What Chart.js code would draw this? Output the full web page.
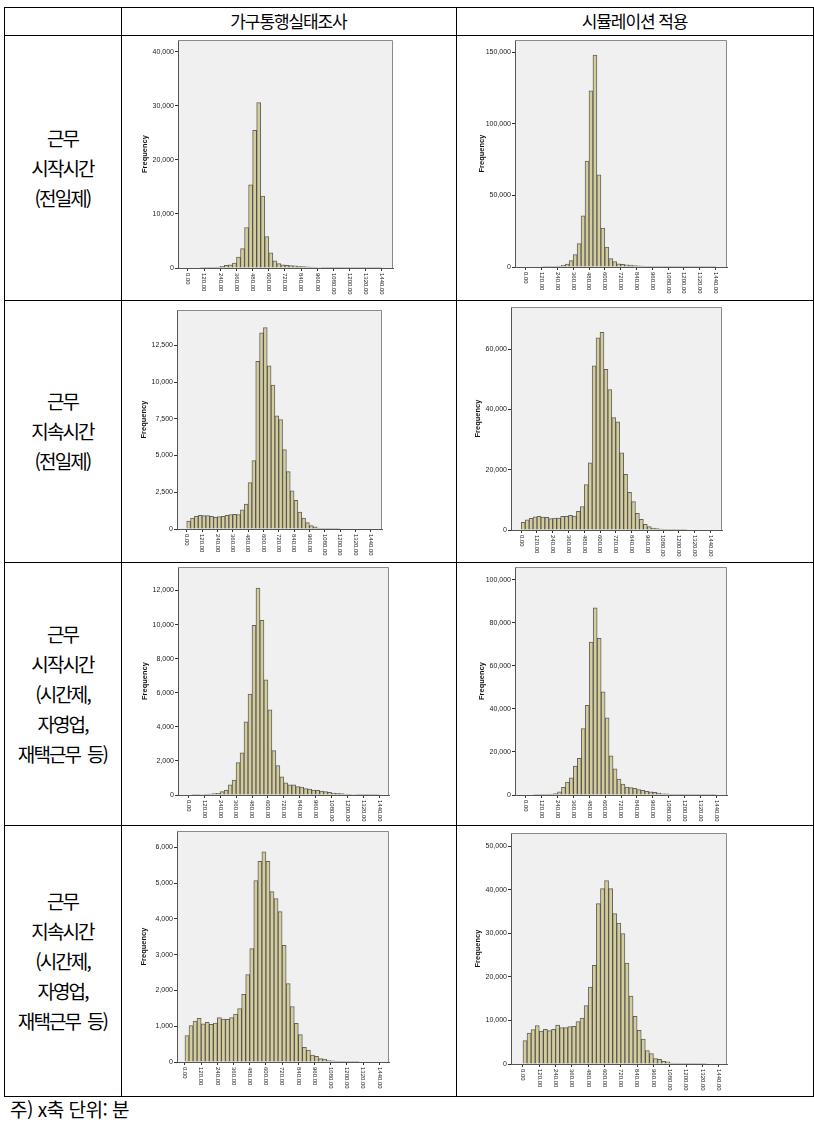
<!DOCTYPE html>
<html lang="ko">
<head>
<meta charset="UTF-8"/>
<title>근무 시작시간·지속시간 분포</title>
<script src="https://cdn.jsdelivr.net/npm/chart.js@4.4.1/dist/chart.umd.min.js"></script>
<style>
  body { margin:0; background:#fff; width:814px; height:1135px; position:relative; overflow:hidden;
         font-family:"Noto Sans CJK KR", sans-serif; color:#000; }
  .hl { position:absolute; left:4px; width:810px; height:1px; background:#000; }
  .vl { position:absolute; top:7px; height:1090px; width:1px; background:#000; }
  .head { position:absolute; top:7px; height:28px; line-height:28px; text-align:center;
          font-size:17px; letter-spacing:-1.1px; }
  .rowlab { position:absolute; left:4px; width:117px; display:flex; align-items:center;
            justify-content:center; text-align:center; font-size:19px; line-height:30px; letter-spacing:-1.9px; }
  canvas { position:absolute; }
  .note { position:absolute; left:10px; top:1095px; font-size:19px; letter-spacing:-0.5px; }
</style>
</head>
<body>
  <div class="hl" style="top:7px"></div>
  <div class="hl" style="top:35px"></div>
  <div class="hl" style="top:300px"></div>
  <div class="hl" style="top:562px"></div>
  <div class="hl" style="top:825px"></div>
  <div class="hl" style="top:1096px"></div>
  <div class="vl" style="left:4px"></div>
  <div class="vl" style="left:121px"></div>
  <div class="vl" style="left:456px"></div>
  <div class="vl" style="left:813px"></div>

  <div class="head" style="left:121px;width:335px">가구통행실태조사</div>
  <div class="head" style="left:456px;width:357px">시뮬레이션 적용</div>

  <div class="rowlab" style="top:35px;height:265px"><div>근무<br>시작시간<br>(전일제)</div></div>
  <div class="rowlab" style="top:300px;height:262px"><div>근무<br>지속시간<br>(전일제)</div></div>
  <div class="rowlab" style="top:562px;height:263px"><div>근무<br>시작시간<br>(시간제,<br>자영업,<br>재택근무&nbsp; 등)</div></div>
  <div class="rowlab" style="top:825px;height:271px"><div>근무<br>지속시간<br>(시간제,<br>자영업,<br>재택근무&nbsp; 등)</div></div>

  <div class="note">주) x축 단위: 분</div>

  <script>
    // 30-minute bins, 0 ~ 1440 min (bin mid points)
    const binMid = [15, 45, 75, 105, 135, 165, 195, 225, 255, 285, 315, 345, 375, 405, 435, 465,
                    495, 525, 555, 585, 615, 645, 675, 705, 735, 765, 795, 825, 855, 885, 915, 945,
                    975, 1005, 1035, 1065, 1095, 1125, 1155, 1185, 1215, 1245, 1275, 1305, 1335, 1365, 1395, 1425];
    const xTickValues = [0, 120, 240, 360, 480, 600, 720, 840, 960, 1080, 1200, 1320, 1440];
    const xTickLabels = ['0.00', '120.00', '240.00', '360.00', '480.00', '600.00', '720.00',
                         '840.00', '960.00', '1080.00', '1200.00', '1320.00', '1440.00'];

    // 근무 시작시간 (전일제)
    const surveyStartFull = [0, 0, 0, 10, 20, 40, 80, 150, 300, 500, 600, 900, 2000, 3600, 7500, 15400,
      25500, 30600, 13300, 5800, 2800, 1350, 800, 600, 500, 450, 400, 300, 250, 200, 150, 120,
      100, 80, 60, 50, 40, 30, 20, 20, 10, 10, 10, 10, 5, 5, 5, 5];
    const simStartFull = [0, 0, 0, 0, 50, 100, 100, 300, 600, 1200, 2100, 4400, 8600, 16300, 35800, 74000,
      123000, 148000, 64400, 27200, 14000, 5800, 3700, 2300, 1800, 1500, 1300, 1000, 800, 600, 400, 300,
      250, 200, 150, 120, 100, 80, 60, 50, 40, 30, 20, 20, 10, 10, 10, 10];
    // 근무 지속시간 (전일제)
    const surveyDurFull = [545, 750, 860, 930, 910, 910, 860, 800, 840, 860, 930, 980, 1000, 980, 1300, 1700,
      3150, 4650, 11400, 13350, 13700, 11100, 9800, 7700, 7450, 5400, 3900, 2600, 1950, 1150, 750, 430,
      230, 140, 70, 40, 20, 10, 5, 5, 0, 0, 0, 0, 0, 0, 0, 0];
    const simDurFull = [2550, 3400, 3900, 4400, 4500, 4300, 4200, 3750, 3950, 3950, 4500, 4500, 4850, 4650, 6200, 7750,
      15100, 22300, 54500, 63800, 65600, 53300, 46600, 37300, 35900, 25600, 18500, 12500, 9400, 5500, 3500, 1900,
      1100, 660, 440, 300, 150, 80, 40, 20, 10, 5, 0, 0, 0, 0, 0, 0];
    // 근무 시작시간 (시간제, 자영업, 재택근무 등)
    const surveyStartPart = [0, 5, 10, 30, 40, 60, 90, 100, 200, 270, 600, 880, 1900, 2480, 4300, 5920,
      9960, 12150, 10250, 6760, 5000, 2600, 1720, 1070, 720, 600, 590, 490, 470, 370, 350, 290,
      270, 230, 200, 150, 120, 100, 80, 60, 40, 30, 20, 10, 10, 10, 5, 5];
    const simStartPart = [0, 0, 50, 100, 200, 300, 400, 700, 1500, 3600, 6000, 8000, 13400, 17000, 30900, 41700,
      71000, 86900, 72800, 47900, 35900, 18200, 12100, 7400, 5100, 3700, 3400, 3100, 2500, 2200, 1700, 1500,
      1200, 900, 600, 500, 300, 200, 150, 100, 80, 60, 40, 30, 20, 10, 10, 5];
    // 근무 지속시간 (시간제, 자영업, 재택근무 등)
    const surveyDurPart = [740, 1020, 1140, 1220, 1070, 1110, 1050, 1090, 1240, 1200, 1190, 1240, 1340, 1490, 1890, 2440,
      3170, 5070, 5610, 5870, 5610, 4760, 4570, 4200, 3260, 2190, 1550, 1080, 765, 410, 335, 190,
      160, 95, 85, 40, 30, 20, 20, 10, 10, 5, 5, 0, 0, 0, 0, 0];
    const simDurPart = [5360, 7120, 7890, 8800, 7580, 7960, 7660, 7960, 8960, 8350, 8350, 8580, 8650, 9720, 10570, 13400,
      17690, 22660, 36830, 40280, 42110, 40280, 34530, 32390, 29940, 23200, 15620, 10950, 7730, 5740, 3060, 2370,
      1230, 1100, 610, 500, 230, 150, 100, 80, 50, 30, 20, 10, 5, 0, 0, 0];

    const yTicks1 = [0, 10000, 20000, 30000, 40000];
    const yTicks2 = [0, 50000, 100000, 150000];
    const yTicks3 = [0, 2500, 5000, 7500, 10000, 12500];
    const yTicks4 = [0, 20000, 40000, 60000];
    const yTicks5 = [0, 2000, 4000, 6000, 8000, 10000, 12000];
    const yTicks6 = [0, 20000, 40000, 60000, 80000, 100000];
    const yTicks7 = [0, 1000, 2000, 3000, 4000, 5000, 6000];
    const yTicks8 = [0, 10000, 20000, 30000, 40000, 50000];

    // plot rect in page px: [left, top, right, bottom]
    const panels = [
      { data: surveyStartFull, ticks: yTicks1, yMax: 42200,  rect: [178, 40, 393, 268],  xMin: -74, xMax: 1522 },
      { data: simStartFull,    ticks: yTicks2, yMax: 158600, rect: [515, 40, 727, 267],  xMin: -81, xMax: 1526 },
      { data: surveyDurFull,   ticks: yTicks3, yMax: 14900,  rect: [177, 310, 382, 529], xMin: -76, xMax: 1528 },
      { data: simDurFull,      ticks: yTicks4, yMax: 74000,  rect: [511, 307, 722, 530], xMin: -78, xMax: 1529 },
      { data: surveyStartPart, ticks: yTicks5, yMax: 13380,  rect: [178, 567, 389, 795], xMin: -78, xMax: 1513 },
      { data: simStartPart,    ticks: yTicks6, yMax: 105900, rect: [515, 567, 727, 795], xMin: -81, xMax: 1521 },
      { data: surveyDurPart,   ticks: yTicks7, yMax: 6455,   rect: [177, 831, 389, 1062], xMin: -59, xMax: 1512 },
      { data: simDurPart,      ticks: yTicks8, yMax: 53060,  rect: [511, 833, 727, 1064], xMin: -88, xMax: 1501 }
    ];

    const frame = {
      id: 'frame',
      beforeDraw(chart) {
        const { ctx, chartArea: a } = chart;
        ctx.save();
        ctx.fillStyle = '#f0f0f0';
        ctx.fillRect(a.left, a.top, a.width, a.height);
        ctx.restore();
      },
      afterDraw(chart) {
        const { ctx, chartArea: a } = chart;
        const xs = chart.scales.x;
        ctx.save();
        ctx.strokeStyle = '#8a8a8a';
        ctx.lineWidth = 1;
        ctx.beginPath();
        ctx.moveTo(a.left, a.top + 0.5);
        ctx.lineTo(a.right - 0.5, a.top + 0.5);
        ctx.lineTo(a.right - 0.5, a.bottom);
        ctx.stroke();
        // x labels read top-to-bottom like the SPSS output
        ctx.fillStyle = '#222';
        ctx.font = '6px "Liberation Sans", Arial, sans-serif';
        ctx.textAlign = 'left';
        ctx.textBaseline = 'middle';
        xTickValues.forEach((v, i) => {
          ctx.save();
          ctx.translate(xs.getPixelForValue(v), a.bottom + 5);
          ctx.rotate(Math.PI / 2);
          ctx.fillText(xTickLabels[i], 0, 0);
          ctx.restore();
        });
        ctx.restore();
      }
    };

    panels.forEach(p => {
      const [L, T, R, B] = p.rect;
      const cv = document.createElement('canvas');
      cv.width = R - L + 74;
      cv.height = B - T + 46;
      cv.style.left = (L - 60) + 'px';
      cv.style.top = (T - 12) + 'px';
      document.body.appendChild(cv);

      new Chart(cv.getContext('2d'), {
        type: 'bar',
        data: {
          datasets: [{
            data: binMid.map((x, i) => ({ x, y: p.data[i] })),
            backgroundColor: '#d4cc99',
            borderColor: 'rgba(40,40,40,0.7)',
            borderWidth: 1,
            barPercentage: 1,
            categoryPercentage: 1
          }]
        },
        options: {
          responsive: false,
          animation: false,
          layout: { padding: { left: 20, top: 12, right: 14, bottom: 6 } },
          plugins: { legend: { display: false }, tooltip: { enabled: false } },
          scales: {
            x: {
              type: 'linear',
              min: p.xMin,
              max: p.xMax,
              offset: false,
              grid: { offset: false, drawOnChartArea: false, drawTicks: true, tickLength: 3, color: '#333' },
              border: { display: true, color: '#555' },
              ticks: { display: false },
              afterBuildTicks: s => { s.ticks = xTickValues.map(v => ({ value: v })); },
              afterFit: s => { s.height = 28; }
            },
            y: {
              min: 0,
              max: p.yMax,
              grid: { drawOnChartArea: false, drawTicks: true, tickLength: 3, color: '#333' },
              border: { display: true, color: '#555' },
              ticks: {
                color: '#222',
                padding: 1,
                font: { family: '"Liberation Sans", Arial, sans-serif', size: 7 },
                callback: v => v.toLocaleString('en-US')
              },
              title: {
                display: true,
                text: 'Frequency',
                color: '#111',
                padding: { top: 2, bottom: 0 },
                font: { family: '"Liberation Sans", Arial, sans-serif', size: 7.5, weight: 'bold' }
              },
              afterBuildTicks: s => { s.ticks = p.ticks.map(v => ({ value: v })); },
              afterFit: s => { s.width = 40; }
            }
          }
        },
        plugins: [frame]
      });
    });
  </script>
</body>
</html>
